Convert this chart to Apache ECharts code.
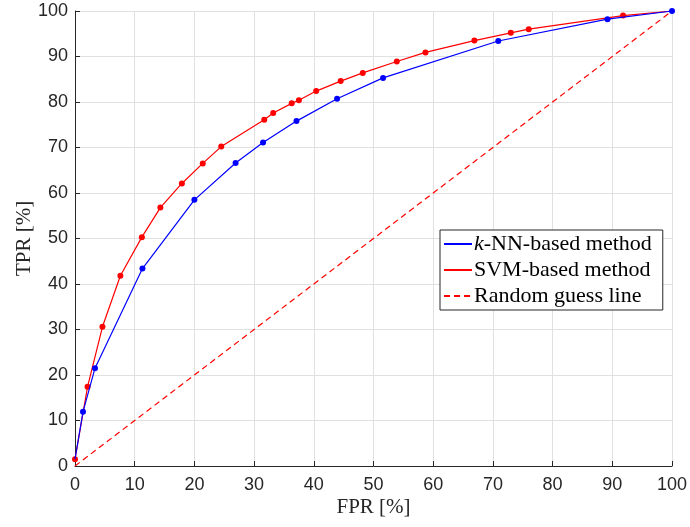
<!DOCTYPE html>
<html>
<head>
<meta charset="utf-8">
<script src="https://cdn.jsdelivr.net/npm/echarts@6/dist/echarts.min.js"></script>
<style>html,body{margin:0;padding:0;background:#fff}#c{width:690px;height:527px}</style>
</head>
<body>
<div id="c"></div>
<script>
const knnFPR = [0, 1.34, 3.35, 11.3, 20.0, 26.9, 31.5, 37.1, 43.9, 51.6, 70.9, 89.2, 100];
const knnTPR = [1.5, 11.9, 21.5, 43.4, 58.5, 66.6, 71.1, 75.8, 80.7, 85.3, 93.4, 98.2, 100];
const svmFPR = [0, 2.1, 4.6, 7.6, 11.2, 14.3, 17.9, 21.4, 24.5, 31.7, 33.2, 36.3, 37.5, 40.4, 44.5, 48.2, 53.9, 58.7, 66.9, 73.0, 76.0, 91.8, 100];
const svmTPR = [1.5, 17.4, 30.6, 41.8, 50.3, 56.8, 62.1, 66.5, 70.2, 76.1, 77.6, 79.7, 80.4, 82.4, 84.6, 86.4, 88.9, 90.9, 93.5, 95.2, 96.0, 99.0, 100];
const randomLine = [[0, 0], [100, 100]];
const names = ['k-NN-based method', 'SVM-based method', 'Random guess line'];

const chart = echarts.init(document.getElementById('c'));
const sans = 'Liberation Sans';
const serif = 'Liberation Serif';
const knnData = knnFPR.map((x, i) => i === 0 ? {value: [x, knnTPR[i]], symbol: 'none'} : [x, knnTPR[i]]);
const svmData = svmFPR.map((x, i) => i === svmFPR.length - 1 ? {value: [x, svmTPR[i]], symbol: 'none'} : [x, svmTPR[i]]);

function axis(nameText, isY) {
  return {
    type: 'value', min: 0, max: 100, interval: 10,
    name: nameText, nameLocation: 'middle', nameGap: isY ? 40 : 31, nameMoveOverlap: false,
    nameTextStyle: {fontFamily: serif, fontSize: 21, color: '#262626'},
    axisLine: {show: true, lineStyle: {color: '#262626', width: 1}},
    axisTick: {show: true, inside: true, length: 5, lineStyle: {color: '#262626'}},
    axisLabel: {fontFamily: sans, fontSize: 18, color: '#262626', margin: isY ? 7 : 10},
    splitLine: {show: true, lineStyle: {color: '#e0e0e0', width: 1}}
  };
}

chart.setOption({
  animation: false,
  grid: {left: 75, right: 18, top: 11, bottom: 61, containLabel: false, outerBoundsMode: 'none'},
  xAxis: axis('FPR [%]', false),
  yAxis: axis('TPR [%]', true),
  legend: {
    left: 440, top: 230, orient: 'vertical', itemGap: 4,
    itemWidth: 28, itemHeight: 12,
    backgroundColor: '#fff', borderColor: '#262626', borderWidth: 1, borderRadius: 0,
    padding: [3, 11, 3, 3],
    itemStyle: {opacity: 0},
    data: names.map(n => ({name: n})),
    formatter: n => n === names[0] ? '{i|k}-NN-based method' : n,
    textStyle: {fontFamily: serif, fontSize: 22, color: '#000', padding: [0, 0, 0, -3],
      rich: {i: {fontFamily: serif, fontStyle: 'italic', fontSize: 22, color: '#000'}}}
  },
  series: [
    {name: names[2], type: 'line', data: randomLine, symbol: 'none', z: 1,
      lineStyle: {color: '#ff0000', width: 1.2, type: [6, 4]}, itemStyle: {color: '#ff0000'}},
    {name: names[1], type: 'line', data: svmData, symbol: 'circle', symbolSize: 6, z: 2,
      lineStyle: {color: '#ff0000', width: 1.2}, itemStyle: {color: '#ff0000'}},
    {name: names[0], type: 'line', data: knnData, symbol: 'circle', symbolSize: 6, z: 3,
      lineStyle: {color: '#0000ff', width: 1.2}, itemStyle: {color: '#0000ff'}}
  ]
});
</script>
</body>
</html>
